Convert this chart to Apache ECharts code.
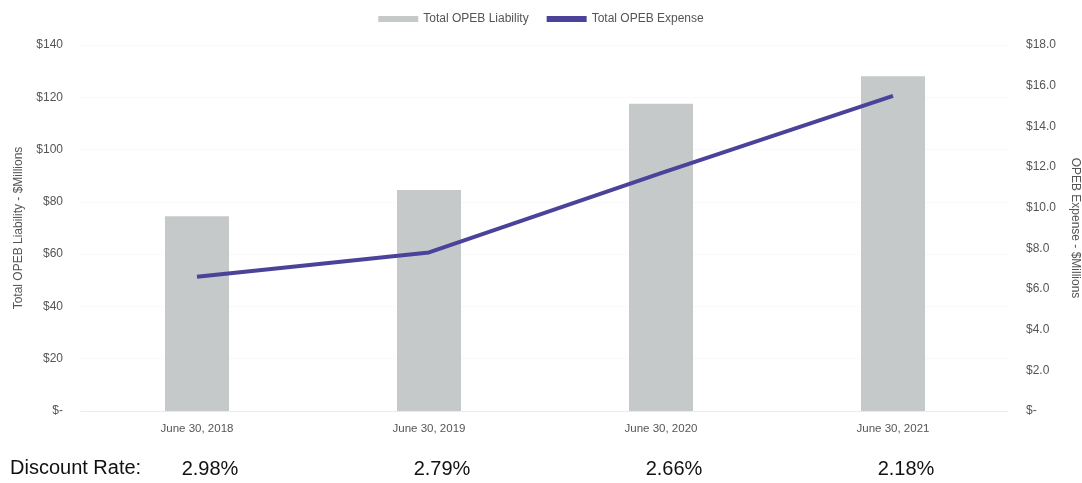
<!DOCTYPE html>
<html>
<head>
<meta charset="utf-8">
<script src="https://cdn.jsdelivr.net/npm/echarts@6/dist/echarts.min.js"></script>
<style>
  html, body { margin: 0; padding: 0; background: #fff; }
  #chart { width: 1082px; height: 483px; }
</style>
</head>
<body>
<div id="chart"></div>
<script>
// Fiscal year-end dates
const categories = ['June 30, 2018', 'June 30, 2019', 'June 30, 2020', 'June 30, 2021'];
// Total OPEB liability, $ millions (left axis)
const liability = [74.5, 84.5, 117.5, 128];
// Total OPEB expense, $ millions (right axis)
const expense = [6.6, 7.8, 11.7, 15.5];
// Discount rate used at each measurement date
const discountRates = ['2.98%', '2.79%', '2.66%', '2.18%'];

const narrow = '"Liberation Sans Narrow", "Arial Narrow", "Liberation Sans", sans-serif';
const tickColor = '#555';

const chart = echarts.init(document.getElementById('chart'));
chart.setOption({
  animation: false,
  backgroundColor: '#fff',
  legend: {
    top: 8,
    left: 'center',
    itemGap: 18,
    itemWidth: 40,
    itemHeight: 6,
    textStyle: { fontFamily: narrow, fontSize: 12, color: '#555' },
    data: [
      { name: 'Total OPEB Liability', icon: 'rect' },
      { name: 'Total OPEB Expense', icon: 'rect' }
    ]
  },
  grid: { left: 81, right: 73, top: 45, bottom: 72, containLabel: false, outerBoundsMode: 'none' },
  xAxis: [
    {
      type: 'category',
      data: categories,
      axisLine: { show: true, lineStyle: { color: '#e6e6e6', type: 'dotted' } },
      axisTick: { show: false },
      axisLabel: { fontFamily: narrow, fontSize: 11.5, color: tickColor, margin: 12 }
    },
    {
      type: 'category',
      position: 'bottom',
      offset: 40,
      data: discountRates,
      axisLine: { show: false },
      axisTick: { show: false },
      axisLabel: {
        fontFamily: '"Liberation Sans", Arial, sans-serif',
        fontSize: 20,
        color: '#111',
        padding: [0, 0, 0, 26]
      }
    }
  ],
  yAxis: [
    {
      type: 'value',
      min: 0, max: 140, interval: 20,
      name: 'Total OPEB Liability - $Millions',
      nameLocation: 'middle',
      nameGap: 56,
      nameTextStyle: { fontFamily: narrow, fontSize: 12, color: tickColor },
      axisLine: { show: false },
      axisTick: { show: false },
      splitLine: { show: true, lineStyle: { color: '#f4f4f4', type: 'dotted' } },
      axisLabel: {
        fontFamily: narrow, fontSize: 12, color: tickColor, margin: 18,
        formatter: v => v === 0 ? '$-' : '$' + v
      }
    },
    {
      type: 'value',
      min: 0, max: 18, interval: 2,
      name: 'OPEB Expense - $Millions',
      nameLocation: 'middle',
      nameGap: 60,
      nameRotate: -90,
      nameTextStyle: { fontFamily: narrow, fontSize: 12, color: tickColor },
      axisLine: { show: false },
      axisTick: { show: false },
      splitLine: { show: false },
      axisLabel: {
        fontFamily: narrow, fontSize: 12, color: tickColor, margin: 17,
        formatter: v => v === 0 ? '$-' : '$' + v.toFixed(1)
      }
    }
  ],
  series: [
    {
      name: 'Total OPEB Liability',
      type: 'bar',
      xAxisIndex: 0,
      yAxisIndex: 0,
      data: liability,
      barWidth: 64,
      itemStyle: { color: '#c5c9c9' }
    },
    {
      name: 'Total OPEB Expense',
      type: 'line',
      xAxisIndex: 0,
      yAxisIndex: 1,
      data: expense,
      symbol: 'none',
      lineStyle: { color: '#4b4399', width: 4 },
      itemStyle: { color: '#4b4399' }
    }
  ],
  graphic: [
    {
      type: 'text',
      left: 10,
      top: 458,
      style: {
        text: 'Discount Rate:',
        font: '20px "Liberation Sans", Arial, sans-serif',
        fill: '#111'
      }
    }
  ]
});
</script>
</body>
</html>
